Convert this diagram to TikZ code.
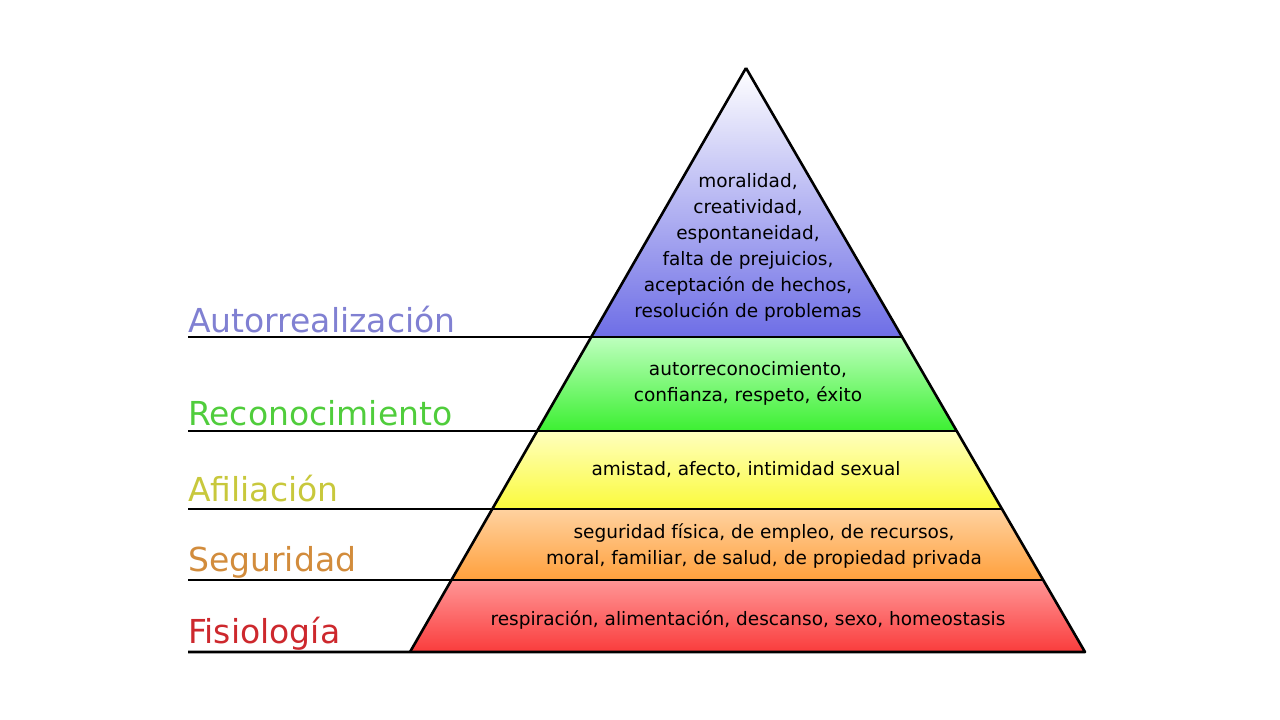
\documentclass[tikz,border=0pt]{standalone}
\usepackage{fontspec}
\setmainfont{DejaVu Sans}
\begin{document}
\begin{tikzpicture}[x=1pt,y=-1pt,
  band/.style={line width=2.6pt,line join=round},
  txt/.style={align=center,font=\fontsize{18.5}{26}\selectfont,inner sep=0},
  lab/.style={anchor=base west,inner sep=0,font=\fontsize{33}{36}\selectfont}]
\useasboundingbox (0,0) rectangle (1280,720);
\definecolor{cA}{RGB}{128,128,210}
\definecolor{cB}{RGB}{80,205,60}
\definecolor{cC}{RGB}{200,200,60}
\definecolor{cD}{RGB}{210,140,60}
\definecolor{cE}{RGB}{205,40,45}
\coordinate (ap) at (746,68);
\shade[shading angle=-30,top color=white,bottom color={rgb,255:red,110;green,110;blue,230}] (ap) -- (903,337) -- (592,337) -- cycle;
\shade[shading angle=-20,top color={rgb,255:red,190;green,255;blue,190},bottom color={rgb,255:red,60;green,240;blue,50}] (592,337) -- (903,337) -- (957,431) -- (538,431) -- cycle;
\shade[shading angle=-20,top color={rgb,255:red,255;green,255;blue,190},bottom color={rgb,255:red,250;green,250;blue,60}] (538,431) -- (957,431) -- (1002,509) -- (493,509) -- cycle;
\shade[shading angle=-20,top color={rgb,255:red,255;green,210;blue,160},bottom color={rgb,255:red,255;green,160;blue,60}] (493,509) -- (1002,509) -- (1043,580) -- (452,580) -- cycle;
\shade[shading angle=-20,top color={rgb,255:red,255;green,150;blue,150},bottom color={rgb,255:red,250;green,60;blue,60}] (452,580) -- (1043,580) -- (1085,652) -- (410,652) -- cycle;
\draw[band] (ap) -- (1085,652) -- (188,652);
\draw[band] (ap) -- (410,652);
\draw[band] (188,337) -- (903,337);
\draw[band] (188,431) -- (957,431);
\draw[band] (188,509) -- (1002,509);
\draw[band] (188,580) -- (1043,580);
\node[txt] (t1) at (748,247) {moralidad,\\creatividad,\\espontaneidad,\\falta de prejuicios,\\aceptación de hechos,\\resolución de problemas};
\node[txt] (t2) at (748,383) {autorreconocimiento,\\confianza, respeto, éxito};
\node[txt] (t3) at (746,470) {amistad, afecto, intimidad sexual};
\node[txt] (t4) at (764,546) {seguridad física, de empleo, de recursos,\\moral, familiar, de salud, de propiedad privada};
\node[txt] (t5) at (748,620) {respiración, alimentación, descanso, sexo, homeostasis};
\node[lab,text=cA] (l1) at (188,332) {Autorrealización};
\node[lab,text=cB] (l2) at (188,425) {Reconocimiento};
\node[lab,text=cC] (l3) at (188,501) {Afiliación};
\node[lab,text=cD] (l4) at (188,571) {Seguridad};
\node[lab,text=cE] (l5) at (188,643) {Fisiología};
\end{tikzpicture}
\end{document}
